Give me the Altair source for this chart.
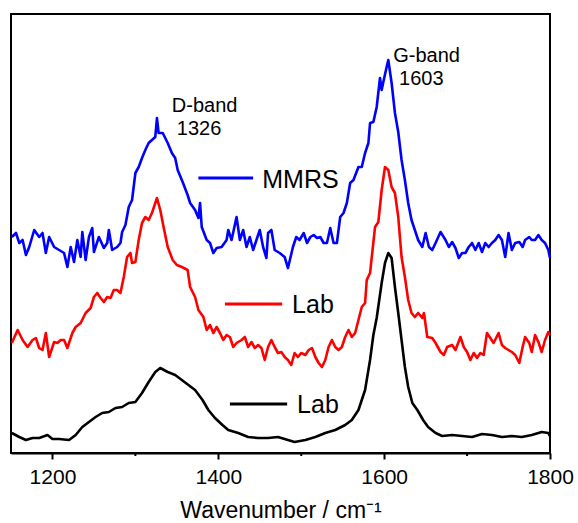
import altair as alt
import pandas as pd

# ---- data (wavenumber in cm-1, intensity in arbitrary units) ----
blue_wn = [1151, 1156, 1160, 1164, 1168, 1172, 1178, 1184, 1188, 1192, 1196, 1202, 1208, 1214, 1218,
           1222, 1226, 1230, 1234, 1236, 1240, 1244, 1248, 1250, 1256, 1262, 1266, 1268, 1272, 1278,
           1282, 1284, 1288, 1292, 1296, 1300, 1304, 1308, 1312, 1316, 1320, 1324, 1326, 1328, 1333,
           1339, 1344, 1348, 1351, 1357, 1363, 1366, 1372, 1376, 1378, 1380, 1386, 1390, 1394, 1398,
           1404, 1410, 1412, 1416, 1422, 1426, 1430, 1434, 1438, 1442, 1446, 1450, 1454, 1458, 1460,
           1464, 1468, 1474, 1480, 1484, 1490, 1494, 1498, 1503, 1507, 1511, 1515, 1519, 1523, 1527,
           1531, 1535, 1539, 1543, 1547, 1551, 1555, 1559, 1563, 1569, 1573, 1577, 1581, 1583, 1587,
           1591, 1595, 1597, 1599, 1603, 1605, 1609, 1613, 1617, 1621, 1625, 1629, 1633, 1637, 1641,
           1646, 1650, 1654, 1658, 1662, 1668, 1674, 1678, 1682, 1686, 1690, 1694, 1698, 1702, 1706,
           1710, 1714, 1718, 1722, 1726, 1730, 1734, 1738, 1742, 1746, 1750, 1754, 1758, 1763, 1767,
           1770, 1775, 1778, 1782, 1786, 1790, 1794, 1798, 1800]
blue_int = [216, 220, 210, 213, 198, 206, 223, 216, 220, 200, 216, 206, 203, 200, 186,
            206, 191, 213, 196, 221, 193, 216, 225, 201, 216, 205, 210, 223, 203, 206,
            210, 221, 228, 246, 253, 280, 286, 295, 303, 310, 313, 316, 335, 320, 320,
            310, 300, 295, 283, 271, 258, 250, 243, 235, 250, 226, 213, 210, 200, 205,
            206, 213, 223, 213, 236, 213, 223, 206, 216, 203, 213, 223, 206, 195, 220,
            223, 203, 200, 196, 185, 206, 216, 213, 220, 210, 216, 218, 215, 216, 210,
            210, 225, 210, 210, 236, 240, 250, 270, 273, 286, 286, 300, 310, 330, 331,
            346, 375, 363, 371, 386, 393, 370, 340, 321, 293, 273, 250, 233, 223, 213,
            206, 220, 206, 203, 210, 221, 213, 206, 211, 205, 195, 200, 200, 206, 210,
            203, 210, 201, 210, 206, 210, 213, 218, 213, 196, 220, 203, 210, 211, 206,
            213, 216, 213, 213, 218, 213, 210, 203, 195]

red_wn = [1151, 1158, 1164, 1170, 1176, 1180, 1184, 1188, 1192, 1196, 1202, 1206, 1210, 1214, 1218,
          1224, 1228, 1234, 1240, 1246, 1250, 1254, 1258, 1262, 1266, 1270, 1274, 1278, 1282, 1286,
          1290, 1294, 1296, 1300, 1304, 1308, 1312, 1316, 1320, 1326, 1330, 1334, 1339, 1345, 1350,
          1356, 1363, 1366, 1372, 1376, 1382, 1386, 1390, 1394, 1398, 1402, 1406, 1410, 1414, 1418,
          1422, 1428, 1432, 1436, 1440, 1444, 1448, 1452, 1456, 1460, 1464, 1468, 1472, 1476, 1480,
          1484, 1488, 1492, 1496, 1500, 1505, 1509, 1513, 1517, 1521, 1525, 1529, 1533, 1537, 1541,
          1545, 1549, 1553, 1557, 1561, 1565, 1569, 1573, 1577, 1579, 1583, 1589, 1593, 1597, 1601,
          1605, 1609, 1613, 1617, 1621, 1625, 1629, 1633, 1637, 1641, 1646, 1648, 1652, 1658, 1662,
          1668, 1672, 1676, 1682, 1686, 1692, 1696, 1700, 1704, 1708, 1712, 1716, 1720, 1724, 1728,
          1732, 1738, 1742, 1746, 1750, 1754, 1758, 1763, 1767, 1770, 1775, 1778, 1782, 1786, 1790,
          1794, 1798, 1800]
red_int = [110, 123, 113, 106, 113, 115, 105, 103, 120, 96, 111, 110, 113, 113, 105,
           120, 126, 130, 140, 145, 156, 160, 155, 151, 156, 155, 163, 163, 160, 176,
           196, 200, 190, 191, 213, 230, 236, 233, 240, 255, 243, 226, 206, 193, 188,
           186, 183, 166, 156, 143, 136, 123, 128, 120, 126, 120, 113, 118, 116, 106,
           110, 113, 116, 106, 111, 105, 108, 105, 93, 106, 113, 106, 100, 101, 96,
           93, 88, 100, 96, 100, 98, 103, 105, 96, 90, 86, 93, 106, 113, 106,
           103, 106, 116, 123, 116, 120, 133, 146, 150, 173, 180, 226, 231, 263, 286,
           283, 266, 260, 236, 196, 176, 153, 140, 136, 140, 135, 140, 116, 115, 110,
           101, 98, 106, 108, 103, 116, 106, 101, 93, 100, 95, 100, 98, 120, 115,
           110, 120, 108, 105, 103, 101, 98, 90, 106, 116, 110, 101, 118, 111, 101,
           113, 121, 118]

black_wn = [1151, 1160, 1168, 1176, 1184, 1194, 1200, 1208, 1220, 1228, 1236, 1244, 1252, 1260, 1268,
            1276, 1284, 1292, 1300, 1308, 1316, 1324, 1330, 1339, 1348, 1356, 1364, 1372, 1381, 1388,
            1396, 1405, 1412, 1424, 1436, 1448, 1460, 1472, 1484, 1492, 1505, 1517, 1529, 1541, 1553,
            1561, 1569, 1577, 1583, 1587, 1591, 1597, 1601, 1605, 1609, 1613, 1617, 1621, 1625, 1629,
            1634, 1640, 1647, 1653, 1662, 1670, 1682, 1694, 1706, 1718, 1730, 1742, 1754, 1766, 1778,
            1790, 1798, 1800]
black_int = [20, 16, 13, 15, 15, 18, 14, 14, 13, 18, 26, 31, 36, 40, 41,
             45, 46, 50, 51, 60, 71, 81, 85, 81, 78, 73, 68, 63, 53, 43,
             35, 28, 23, 20, 16, 15, 15, 16, 13, 11, 13, 16, 20, 23, 28,
             33, 43, 63, 93, 118, 135, 170, 190, 200, 195, 166, 140, 113, 86, 66,
             50, 43, 33, 26, 20, 17, 18, 17, 16, 19, 18, 16, 17, 16, 18,
             21, 20, 17]

x_ticks = [1200, 1400, 1600, 1800]
minor_ticks = [1300, 1500, 1700]

legend_labels = ["MMRS", "Lab", "Lab"]
legend_colors = ["#0000FF", "#FF0000", "#000000"]
legend_x1 = [1376, 1408, 1414]
legend_x2 = [1442, 1477, 1483]
legend_y = [275, 149, 49]
legend_tx = [1453, 1489, 1495]
legend_ty = [265, 140, 40]

ann_text = ["D-band", "1326", "G-band", "1603"]
ann_x = [1344, 1350, 1611, 1618]
ann_y = [341, 318, 391, 368]

FONT = "Liberation Sans"

xscale = alt.Scale(domain=[1150, 1800], nice=False, zero=False)
yscale = alt.Scale(domain=[0, 439], nice=False, zero=False)


def spectrum(wn, inten, color):
    d = pd.DataFrame({"wn": wn, "inten": inten})
    return alt.Chart(d).mark_line(color=color, strokeWidth=2.6, strokeJoin="round").encode(
        x=alt.X("wn:Q", scale=xscale,
                axis=alt.Axis(values=x_ticks, format="d", title="Wavenumber / cm⁻¹", grid=False,
                              tickSize=6, tickWidth=2, tickColor="black",
                              domain=True, domainColor="black", domainWidth=2,
                              labelFontSize=21, labelFont=FONT, labelColor="black",
                              labelPadding=7, titleFontSize=23, titleFont=FONT,
                              titleFontWeight="normal", titleColor="black", titlePadding=12,
                              labelFlush=False)),
        y=alt.Y("inten:Q", scale=yscale, axis=None),
    )


layers = [spectrum(black_wn, black_int, "#000000"),
          spectrum(red_wn, red_int, "#FF0000"),
          spectrum(blue_wn, blue_int, "#0000FF")]

minor_df = pd.DataFrame({"wn": minor_ticks})
minor = alt.Chart(minor_df).mark_rule(color="black", strokeWidth=2).encode(
    x=alt.X("wn:Q", scale=xscale), y=alt.value(439), y2=alt.value(442))

leg_df = pd.DataFrame({"label": legend_labels, "color": legend_colors, "x1": legend_x1,
                       "x2": legend_x2, "y": legend_y, "tx": legend_tx, "ty": legend_ty})
leg_lines = alt.Chart(leg_df).mark_rule(strokeWidth=3).encode(
    x=alt.X("x1:Q", scale=xscale), x2="x2:Q", y=alt.Y("y:Q", scale=yscale),
    color=alt.Color("color:N", scale=None))
leg_text = alt.Chart(leg_df).mark_text(align="left", baseline="alphabetic", font=FONT,
                                       fontSize=25, color="black").encode(
    x=alt.X("tx:Q", scale=xscale), y=alt.Y("ty:Q", scale=yscale), text="label:N")

ann_df = pd.DataFrame({"t": ann_text, "x": ann_x, "y": ann_y})
ann = alt.Chart(ann_df).mark_text(align="left", baseline="alphabetic", font=FONT,
                                  fontSize=20, color="black").encode(
    x=alt.X("x:Q", scale=xscale), y=alt.Y("y:Q", scale=yscale), text="t:N")

chart = alt.layer(*layers, minor, leg_lines, leg_text, ann).properties(
    width=539, height=439,
    autosize=alt.AutoSizeParams(type="none"),
    padding={"left": 11, "top": 14, "right": 28, "bottom": 70},
    background="white",
).configure_view(stroke="black", strokeWidth=2)

chart.save("out.html", embed_options={"renderer": "svg", "actions": False})
